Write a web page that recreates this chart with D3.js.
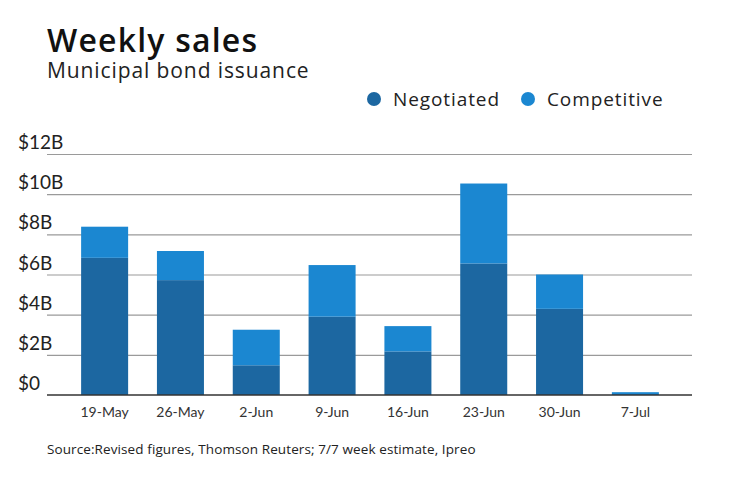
<!DOCTYPE html>
<html>
<head>
<meta charset="utf-8">
<script src="https://cdn.jsdelivr.net/npm/d3@7"></script>
<style>
  body { margin: 0; background: #fff; }
  svg { display: block; font-family: Lato, "Noto Sans", sans-serif; }
  .wide { font-family: "Open Sans", "Noto Sans", sans-serif; }
  .grid line { stroke: #9a9a9a; stroke-width: 1.2; }
  .grid .domain { display: none; }
  .ylab text { fill: #222; font-size: 19px; }
  .xaxis text { fill: #333; font-size: 14px; font-family: Lato, sans-serif; }
  .xaxis .domain, .xaxis line { display: none; }
</style>
</head>
<body>
<svg width="740" height="482"></svg>
<script>
var weeks = ["19-May", "26-May", "2-Jun", "9-Jun", "16-Jun", "23-Jun", "30-Jun", "7-Jul"];
var negotiated = [6.83, 5.72, 1.48, 3.9, 2.17, 6.55, 4.29, 0];
var competitive = [1.55, 1.45, 1.77, 2.57, 1.26, 3.98, 1.71, 0.14];
var seriesNames = ["Negotiated", "Competitive"];
var seriesColors = ["#1c67a1", "#1b87d1"];
var yTicks = [0, 2, 4, 6, 8, 10, 12];

var svg = d3.select("svg");

var rows = weeks.map(function(w, i) {
    return {week: w, Negotiated: negotiated[i], Competitive: competitive[i]};
});
var stacked = d3.stack().keys(seriesNames)(rows);

var xScale = d3.scaleBand().domain(weeks).range([47, 693]).paddingInner(0.38).paddingOuter(0.45),
    yScale = d3.scaleLinear().domain([0, 12]).range([395, 154]);

// title
svg.append("text")
    .attr("class", "wide")
    .attr("x", 47).attr("y", 52)
    .style("font-size", "32px").style("font-weight", 600).style("fill", "#111")
    .style("letter-spacing", "1.2px")
    .text("Weekly sales");
svg.append("text")
    .attr("class", "wide")
    .attr("x", 47).attr("y", 78)
    .style("font-size", "21px").style("fill", "#222")
    .style("letter-spacing", "0.9px")
    .text("Municipal bond issuance");

// legend
var legend = svg.append("g");
var legendX = [374, 528];
seriesNames.forEach(function(name, i) {
    legend.append("circle")
        .attr("cx", legendX[i]).attr("cy", 99).attr("r", 7)
        .style("fill", seriesColors[i]);
    legend.append("text")
        .attr("class", "wide")
        .attr("x", legendX[i] + 19).attr("y", 106)
        .style("font-size", "19px").style("fill", "#222")
        .style("letter-spacing", "0.9px")
        .text(name);
});

// grid
svg.append("g")
    .attr("class", "grid")
    .attr("transform", "translate(47,0)")
    .call(d3.axisLeft(yScale).tickValues(yTicks.slice(1)).tickSize(-645).tickFormat(""));

// y labels sit above the gridlines
svg.append("g")
    .attr("class", "ylab")
  .selectAll("text")
    .data(yTicks)
  .enter().append("text")
    .attr("x", 18)
    .attr("y", d => yScale(d) - 5)
    .text(d => d === 0 ? "$0" : "$" + d + "B");

// bars
svg.selectAll(".series")
    .data(stacked)
  .enter().append("g")
    .attr("class", "series")
    .style("fill", (d, i) => seriesColors[i])
  .selectAll("rect")
    .data(d => d)
  .enter().append("rect")
    .attr("x", d => xScale(d.data.week))
    .attr("width", xScale.bandwidth())
    .attr("y", d => yScale(d[1]))
    .attr("height", d => yScale(d[0]) - yScale(d[1]));

// baseline
svg.append("line")
    .attr("x1", 47).attr("x2", 692)
    .attr("y1", yScale(0)).attr("y2", yScale(0))
    .style("stroke", "#333").style("stroke-width", 1.5);

// x axis
svg.append("g")
    .attr("class", "xaxis")
    .attr("transform", "translate(0," + (yScale(0) + 6) + ")")
    .call(d3.axisBottom(xScale).tickSize(0).tickPadding(6));

// source
svg.append("text")
    .attr("class", "wide")
    .attr("x", 47).attr("y", 454)
    .style("font-size", "13.5px").style("fill", "#222")
    .style("letter-spacing", "0.1px")
    .text("Source:Revised figures, Thomson Reuters; 7/7 week estimate, Ipreo");
</script>
</body>
</html>
